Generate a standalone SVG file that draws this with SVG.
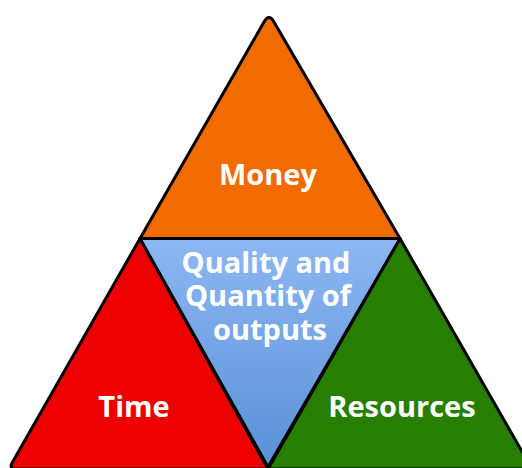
<svg xmlns="http://www.w3.org/2000/svg" width="522" height="468" viewBox="0 0 522 468">
  <defs>
    <linearGradient id="blueGrad" x1="0" y1="0" x2="0" y2="1">
      <stop offset="0" stop-color="#8DB7F3"/>
      <stop offset="1" stop-color="#5990D6"/>
    </linearGradient>
    <style>
      .tri { stroke: #000; stroke-width: 3; stroke-linejoin: round; }
      .lbl { font-family: "Open Sans", "Liberation Sans", sans-serif; font-weight: bold; font-size: 29px; fill: #FFFFFF; text-anchor: middle; }
    </style>
  </defs>
  <rect width="522" height="468" fill="#FFFFFF"/>
  <g id="connectors"></g>
  <g id="money">
    <path class="tri" fill="#F26B00" d="M140 238.5 L264 22 Q269 13 274 22 L400 238.5 Z"/>
    <text class="lbl" x="268" y="185">Money</text>
  </g>
  <g id="time">
    <path class="tri" fill="#EE0000" d="M140 238.5 L12 463 Q9 469 16 469 L268 469 Z"/>
    <text class="lbl" x="134" y="417">Time</text>
  </g>
  <g id="resources">
    <path class="tri" fill="#267F00" d="M400 238.5 L268 469 L532 469 Z"/>
    <text class="lbl" x="402" y="417">Resources</text>
  </g>
  <g id="quality">
    <path class="tri" fill="url(#blueGrad)" d="M140 238.5 L400 238.5 L268 467 Z"/>
    <text class="lbl" x="266" y="273">Quality and<tspan x="268" dy="33">Quantity of</tspan><tspan x="270" dy="34">outputs</tspan></text>
  </g>
</svg>
